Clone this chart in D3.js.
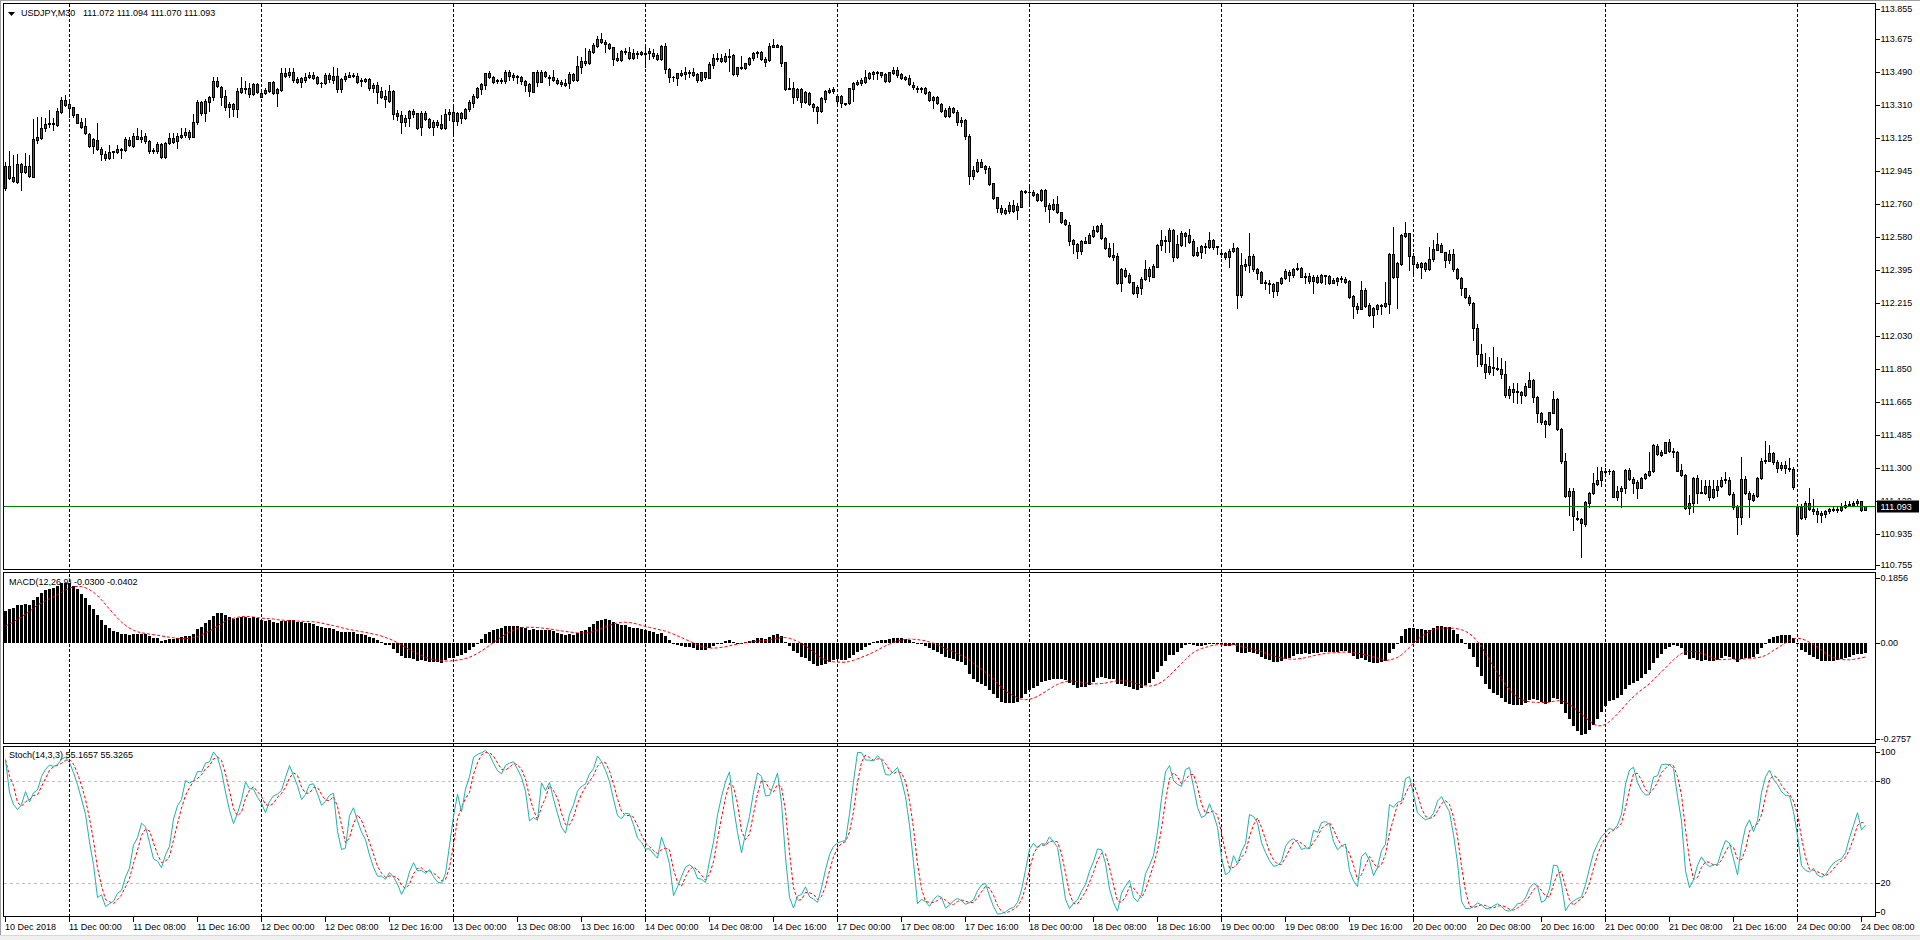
<!DOCTYPE html>
<html><head><meta charset="utf-8">
<script src="https://cdn.jsdelivr.net/npm/d3@7"></script>
<style>
html,body{margin:0;padding:0;background:#fff;overflow:hidden}
svg{display:block}
text{font-family:"Liberation Sans",Arial,sans-serif;font-size:9px;fill:#000}
</style></head><body>
<svg id="c" width="1920" height="940"></svg>
<script>
// ---------------- DATA ----------------
const SYMBOL = "USDJPY,M30";
const OPEN = [
112.848,112.973,112.909,112.885,112.982,112.935,112.971,112.912,113.115,113.124,
113.179,113.202,113.207,113.198,113.272,113.336,113.312,113.296,113.257,113.216,
113.192,113.148,113.082,113.115,113.063,113.038,113.014,113.047,113.047,113.065,
113.060,113.115,113.082,113.137,113.133,113.137,113.111,113.060,113.051,113.093,
113.023,113.097,113.124,113.111,113.133,113.143,113.157,113.133,113.213,113.327,
113.266,113.327,113.354,113.441,113.406,113.358,113.314,113.314,113.284,113.382,
113.400,113.400,113.369,113.424,113.377,113.377,113.388,113.434,113.373,113.391,
113.487,113.474,113.493,113.452,113.437,113.447,113.461,113.474,113.461,113.428,
113.428,113.474,113.447,113.469,113.397,113.450,113.465,113.474,113.470,113.441,
113.443,113.450,113.400,113.417,113.386,113.358,113.332,113.386,113.262,113.253,
113.216,113.238,113.275,113.262,113.189,113.262,113.229,113.189,113.216,113.203,
113.179,113.257,113.272,113.222,113.262,113.235,113.284,113.321,113.354,113.397,
113.419,113.483,113.465,113.443,113.447,113.443,113.493,113.474,113.469,113.461,
113.443,113.423,113.382,113.489,113.437,113.489,113.461,113.461,113.447,113.437,
113.419,113.428,113.480,113.447,113.520,113.539,113.542,113.603,113.634,113.673,
113.658,113.645,113.627,113.566,113.557,113.599,113.599,113.570,113.590,113.588,
113.598,113.607,113.598,113.585,113.563,113.634,113.505,113.461,113.456,113.474,
113.480,113.483,113.493,113.478,113.447,113.489,113.459,113.529,113.561,113.553,
113.551,113.579,113.585,113.478,113.514,113.514,113.533,113.566,113.596,113.601,
113.563,113.557,113.631,113.640,113.634,113.544,113.397,113.400,113.351,113.397,
113.327,113.377,113.314,113.299,113.277,113.343,113.380,113.388,113.332,113.358,
113.318,113.318,113.397,113.424,113.432,113.437,113.459,113.480,113.483,113.491,
113.480,113.441,113.487,113.502,113.478,113.465,113.456,113.419,113.404,113.395,
113.404,113.382,113.354,113.351,113.314,113.281,113.249,113.290,113.270,113.215,
113.225,113.135,112.917,112.945,112.995,112.971,112.958,112.875,112.798,112.737,
112.713,112.724,112.755,112.728,112.746,112.833,112.827,112.829,112.816,112.783,
112.838,112.733,112.733,112.761,112.715,112.672,112.645,112.562,112.538,112.503,
112.547,112.547,112.586,112.612,112.645,112.571,112.516,112.479,112.474,112.323,
112.396,112.369,112.328,112.267,112.299,112.345,112.402,112.359,112.415,112.534,
112.562,112.558,112.617,112.470,112.534,112.599,112.590,112.556,112.494,112.494,
112.521,112.521,112.562,112.529,112.488,112.488,112.470,112.503,112.516,112.258,
112.418,112.424,112.474,112.400,112.387,112.332,112.323,112.319,112.282,112.326,
112.350,112.387,112.369,112.402,112.405,112.359,112.363,112.337,112.359,112.332,
112.369,112.363,112.341,112.337,112.350,112.345,112.335,112.253,112.197,112.183,
112.286,112.203,112.148,112.179,112.203,112.197,112.207,112.483,112.356,112.429,
112.586,112.599,112.474,112.428,112.415,112.434,112.400,112.456,112.507,112.535,
112.493,112.452,112.485,112.400,112.351,112.295,112.249,112.213,112.074,111.931,
111.877,111.830,111.861,111.857,111.848,111.822,111.706,111.737,111.721,111.721,
111.706,111.752,111.789,111.697,111.608,111.563,111.544,111.608,111.682,111.518,
111.341,111.148,111.176,111.028,111.019,110.991,111.111,111.163,111.214,111.233,
111.281,111.286,111.288,111.144,111.176,111.191,111.292,111.242,111.227,111.194,
111.246,111.264,111.283,111.426,111.375,111.387,111.445,111.397,111.389,111.292,
111.264,111.080,111.108,111.246,111.166,111.163,111.200,111.141,111.181,111.200,
111.233,111.233,111.159,111.093,111.030,111.242,111.166,111.126,111.145,111.246,
111.341,111.343,111.384,111.334,111.301,111.319,111.301,111.295,110.936,111.089,
111.030,111.111,111.076,111.065,111.043,111.047,111.065,111.076,111.071,111.071,
111.085,111.098,111.096,111.108,111.117,111.072];
const HIGH = [
112.995,113.056,113.032,113.036,112.986,113.041,113.032,113.231,113.244,113.244,
113.235,113.281,113.235,113.290,113.354,113.364,113.336,113.299,113.259,113.235,
113.235,113.152,113.124,113.211,113.078,113.051,113.087,113.056,113.087,113.069,
113.130,113.133,113.152,113.179,113.170,113.155,113.115,113.069,113.106,113.097,
113.106,113.155,113.152,113.155,113.179,113.179,113.170,113.259,113.336,113.332,
113.340,113.358,113.461,113.465,113.413,113.391,113.327,113.318,113.400,113.461,
113.443,113.428,113.428,113.428,113.391,113.400,113.437,113.441,113.400,113.511,
113.511,113.511,113.511,113.461,113.465,113.483,113.493,113.493,113.469,113.437,
113.483,113.487,113.520,113.511,113.456,113.483,113.489,113.487,113.483,113.456,
113.456,113.456,113.432,113.437,113.410,113.391,113.419,113.391,113.281,113.277,
113.253,113.281,113.284,113.266,113.277,113.277,113.235,113.225,113.225,113.253,
113.284,113.284,113.299,113.272,113.272,113.290,113.336,113.369,113.410,113.428,
113.487,113.496,113.469,113.452,113.456,113.502,113.502,113.483,113.474,113.469,
113.447,113.432,113.493,113.502,113.502,113.496,113.474,113.502,113.456,113.447,
113.450,113.489,113.487,113.579,113.575,113.621,113.616,113.649,113.690,113.704,
113.667,113.653,113.631,113.598,113.612,113.621,113.627,113.616,113.609,113.607,
113.645,113.621,113.616,113.598,113.640,113.649,113.511,113.469,113.487,113.502,
113.516,113.502,113.511,113.483,113.493,113.493,113.548,113.590,113.594,113.590,
113.594,113.616,113.590,113.520,113.579,113.542,113.575,113.603,113.609,113.607,
113.572,113.653,113.671,113.645,113.638,113.548,113.456,113.437,113.400,113.400,
113.388,113.382,113.321,113.303,113.354,113.391,113.404,113.406,113.364,113.364,
113.321,113.404,113.437,113.447,113.456,113.502,113.493,113.498,113.498,113.493,
113.487,113.493,113.520,113.520,113.487,113.469,113.474,113.437,113.413,113.410,
113.410,113.388,113.358,113.358,113.318,113.290,113.303,113.299,113.281,113.240,
113.230,113.150,112.971,113.010,113.008,112.976,112.971,112.879,112.801,112.755,
112.737,112.774,112.783,112.765,112.838,112.838,112.860,112.838,112.824,112.842,
112.842,112.765,112.787,112.805,112.719,112.676,112.663,112.566,112.544,112.562,
112.577,112.599,112.639,112.645,112.658,112.577,112.544,112.544,112.492,112.405,
112.405,112.382,112.332,112.313,112.359,112.451,112.415,112.429,112.538,112.617,
112.584,112.626,112.621,112.590,112.612,112.604,112.621,112.566,112.525,112.534,
112.544,112.608,112.568,112.529,112.498,112.498,112.510,112.544,112.521,112.492,
112.455,112.599,112.485,112.405,112.393,112.341,112.341,112.326,112.332,112.359,
112.400,112.396,112.405,112.437,112.415,112.378,112.378,112.369,112.369,112.374,
112.370,112.369,112.350,112.359,112.363,112.359,112.341,112.258,112.212,112.337,
112.295,112.212,112.194,112.208,112.208,112.332,112.492,112.636,112.442,112.595,
112.664,112.603,112.491,112.443,112.443,112.443,112.522,112.563,112.599,112.548,
112.498,112.507,112.511,112.406,112.356,112.299,112.259,112.222,112.098,111.988,
111.936,111.914,111.968,111.914,111.909,111.896,111.756,111.774,111.771,111.725,
111.771,111.831,111.795,111.701,111.614,111.568,111.614,111.728,111.688,111.522,
111.384,111.194,111.194,111.067,111.028,111.117,111.172,111.273,111.310,111.310,
111.301,111.299,111.292,111.200,111.200,111.299,111.301,111.251,111.233,111.255,
111.273,111.389,111.435,111.435,111.402,111.448,111.461,111.411,111.397,111.325,
111.268,111.154,111.255,111.264,111.236,111.236,111.236,111.236,111.233,111.255,
111.279,111.251,111.172,111.098,111.362,111.259,111.177,111.163,111.255,111.356,
111.454,111.430,111.389,111.347,111.334,111.338,111.356,111.306,111.098,111.104,
111.117,111.194,111.130,111.080,111.062,111.071,111.080,111.089,111.085,111.108,
111.120,111.120,111.120,111.130,111.120,111.094];
const LOW = [
112.839,112.898,112.885,112.876,112.839,112.931,112.912,112.909,113.100,113.119,
113.167,113.189,113.170,113.192,113.262,113.303,113.244,113.244,113.207,113.179,
113.148,113.075,113.041,113.060,113.004,113.004,113.008,113.014,113.041,113.014,
113.056,113.082,113.078,113.119,113.106,113.097,113.045,113.041,113.045,113.017,
113.017,113.093,113.100,113.069,113.124,113.133,113.119,113.130,113.203,113.253,
113.222,113.277,113.336,113.406,113.308,113.281,113.240,113.248,113.244,113.377,
113.377,113.354,113.364,113.377,113.351,113.369,113.382,113.369,113.303,113.388,
113.465,113.465,113.437,113.432,113.410,113.437,113.456,113.450,113.423,113.410,
113.424,113.437,113.428,113.382,113.382,113.443,113.461,113.461,113.432,113.413,
113.437,113.391,113.382,113.321,113.345,113.296,113.327,113.229,113.225,113.155,
113.192,113.192,113.244,113.178,113.143,113.225,113.179,113.143,113.189,113.174,
113.174,113.225,113.155,113.198,113.207,113.229,113.277,113.296,113.345,113.369,
113.395,113.456,113.428,113.432,113.428,113.432,113.447,113.447,113.432,113.424,
113.388,113.358,113.378,113.413,113.434,113.461,113.419,113.441,113.424,113.413,
113.413,113.400,113.441,113.443,113.487,113.529,113.535,113.594,113.631,113.653,
113.599,113.616,113.529,113.553,113.553,113.590,113.563,113.563,113.566,113.583,
113.520,113.561,113.566,113.557,113.557,113.483,113.437,113.443,113.419,113.469,
113.450,113.465,113.469,113.437,113.443,113.450,113.456,113.511,113.553,113.548,
113.548,113.498,113.474,113.469,113.505,113.507,113.529,113.557,113.572,113.557,
113.524,113.553,113.627,113.627,113.524,113.391,113.395,113.318,113.336,113.296,
113.321,113.308,113.277,113.207,113.272,113.327,113.377,113.373,113.321,113.296,
113.308,113.314,113.332,113.419,113.419,113.432,113.450,113.450,113.450,113.465,
113.437,113.435,113.480,113.465,113.454,113.447,113.419,113.395,113.382,113.382,
113.369,113.332,113.290,113.314,113.272,113.244,113.244,113.262,113.200,113.190,
113.120,112.870,112.897,112.940,112.963,112.930,112.866,112.787,112.719,112.704,
112.704,112.713,112.719,112.678,112.742,112.820,112.755,112.805,112.779,112.779,
112.724,112.663,112.728,112.709,112.654,112.645,112.534,112.492,112.464,112.485,
112.544,112.544,112.580,112.608,112.566,112.510,112.466,112.451,112.319,112.282,
112.359,112.323,112.262,112.245,112.262,112.341,112.337,112.356,112.411,112.507,
112.498,112.498,112.448,112.464,112.529,112.529,112.547,112.474,112.474,112.464,
112.488,112.516,112.510,112.483,112.470,112.455,112.415,112.498,112.184,112.249,
112.396,112.387,112.393,112.345,112.323,112.289,112.267,112.249,112.258,112.319,
112.345,112.337,112.359,112.396,112.356,112.326,112.326,112.271,112.323,112.326,
112.319,112.319,112.323,112.313,112.332,112.326,112.240,112.129,112.161,112.179,
112.194,112.142,112.083,112.153,112.153,112.194,112.161,112.350,112.184,112.424,
112.581,112.397,112.364,112.406,112.351,112.393,112.397,112.448,112.504,112.493,
112.412,112.434,112.393,112.345,112.259,112.240,112.203,112.010,111.863,111.866,
111.798,111.822,111.817,111.841,111.798,111.697,111.691,111.669,111.664,111.660,
111.701,111.748,111.669,111.559,111.546,111.472,111.540,111.605,111.513,111.329,
111.144,111.043,110.957,111.012,110.813,110.982,111.085,111.159,111.209,111.200,
111.273,111.270,111.141,111.126,111.089,111.166,111.236,111.166,111.139,111.190,
111.240,111.259,111.279,111.375,111.369,111.384,111.389,111.362,111.283,111.259,
111.074,111.049,111.061,111.111,111.163,111.159,111.126,111.135,111.148,111.196,
111.218,111.154,111.078,110.936,110.993,111.159,111.034,111.117,111.141,111.240,
111.329,111.338,111.325,111.279,111.292,111.273,111.288,111.185,110.933,111.019,
111.019,111.071,111.049,111.001,111.006,111.034,111.056,111.062,111.058,111.065,
111.080,111.093,111.093,111.098,111.062,111.070];
const CLOSE = [
112.973,112.903,112.890,112.982,112.935,112.971,112.916,113.121,113.133,113.183,
113.202,113.207,113.203,113.275,113.336,113.308,113.294,113.253,113.211,113.189,
113.152,113.082,113.119,113.063,113.036,113.014,113.047,113.051,113.065,113.060,
113.119,113.087,113.137,113.122,113.122,113.111,113.051,113.051,113.093,113.023,
113.097,113.124,113.106,113.137,113.143,113.161,113.130,113.213,113.327,113.262,
113.332,113.354,113.441,113.413,113.354,113.299,113.299,113.284,113.388,113.400,
113.395,113.369,113.423,113.382,113.354,113.391,113.434,113.373,113.395,113.483,
113.469,113.493,113.447,113.437,113.456,113.465,113.474,113.459,113.428,113.432,
113.474,113.450,113.469,113.395,113.450,113.469,113.474,113.469,113.437,113.447,
113.450,113.400,113.417,113.382,113.354,113.340,113.386,113.259,113.248,113.216,
113.238,113.275,113.259,113.183,113.262,113.229,113.189,113.216,113.198,113.179,
113.257,113.272,113.222,113.262,113.235,113.284,113.327,113.358,113.400,113.423,
113.483,113.461,113.437,113.447,113.443,113.493,113.470,113.461,113.461,113.443,
113.419,113.388,113.489,113.437,113.489,113.469,113.458,113.447,113.432,113.423,
113.432,113.480,113.447,113.524,113.553,113.553,113.607,113.640,113.673,113.658,
113.644,113.625,113.563,113.557,113.607,113.609,113.570,113.594,113.598,113.603,
113.590,113.594,113.581,113.563,113.634,113.505,113.461,113.465,113.483,113.487,
113.489,113.493,113.474,113.447,113.489,113.461,113.535,113.566,113.570,113.570,
113.579,113.575,113.478,113.516,113.520,113.539,113.570,113.598,113.601,113.563,
113.548,113.634,113.640,113.631,113.542,113.397,113.400,113.351,113.397,113.327,
113.382,113.312,113.296,113.277,113.345,113.386,113.391,113.399,113.358,113.318,
113.314,113.400,113.432,113.437,113.447,113.461,113.487,113.491,113.491,113.474,
113.441,113.489,113.502,113.474,113.459,113.450,113.423,113.406,113.395,113.400,
113.377,113.336,113.336,113.321,113.277,113.248,113.290,113.270,113.215,113.225,
113.135,112.917,112.949,112.995,112.967,112.954,112.871,112.792,112.737,112.715,
112.728,112.755,112.724,112.750,112.833,112.825,112.829,112.811,112.783,112.838,
112.752,112.755,112.761,112.715,112.663,112.649,112.558,112.538,112.503,112.556,
112.556,112.590,112.617,112.639,112.571,112.516,112.474,112.470,112.323,112.400,
112.363,112.328,112.267,112.300,112.347,112.402,112.363,112.418,112.534,112.562,
112.558,112.617,112.470,112.540,112.603,112.584,112.553,112.479,112.479,112.529,
112.529,112.562,112.525,112.521,112.485,112.470,112.503,112.516,112.260,112.424,
112.429,112.474,112.400,112.382,112.326,112.323,112.319,112.282,112.328,112.350,
112.391,112.369,112.400,112.405,112.359,112.363,112.337,112.359,112.332,112.369,
112.363,112.326,112.326,112.350,112.345,112.332,112.249,112.197,112.183,112.286,
112.199,112.148,112.184,112.203,112.199,112.212,112.483,112.356,112.433,112.590,
112.599,112.476,112.430,112.412,112.434,112.400,112.456,112.511,112.540,112.498,
112.452,112.483,112.400,112.351,112.295,112.249,112.213,112.074,111.931,111.877,
111.830,111.863,111.857,111.850,111.822,111.706,111.737,111.721,111.725,111.706,
111.756,111.789,111.697,111.608,111.559,111.544,111.610,111.682,111.516,111.338,
111.150,111.176,111.038,111.019,110.997,111.113,111.166,111.218,111.236,111.283,
111.286,111.284,111.144,111.176,111.194,111.292,111.242,111.218,111.194,111.249,
111.268,111.283,111.430,111.378,111.389,111.445,111.397,111.389,111.288,111.264,
111.080,111.111,111.246,111.166,111.172,111.200,111.141,111.185,111.205,111.236,
111.240,111.159,111.085,111.030,111.242,111.166,111.130,111.154,111.249,111.341,
111.347,111.384,111.334,111.301,111.319,111.301,111.295,111.196,111.089,111.028,
111.111,111.074,111.062,111.047,111.052,111.065,111.076,111.071,111.074,111.089,
111.098,111.104,111.111,111.117,111.071,111.093];

const TIME_LABELS = ["10 Dec 2018","11 Dec 00:00","11 Dec 08:00","11 Dec 16:00","12 Dec 00:00","12 Dec 08:00","12 Dec 16:00",
"13 Dec 00:00","13 Dec 08:00","13 Dec 16:00","14 Dec 00:00","14 Dec 08:00","14 Dec 16:00","17 Dec 00:00","17 Dec 08:00",
"17 Dec 16:00","18 Dec 00:00","18 Dec 08:00","18 Dec 16:00","19 Dec 00:00","19 Dec 08:00","19 Dec 16:00","20 Dec 00:00",
"20 Dec 08:00","20 Dec 16:00","21 Dec 00:00","21 Dec 08:00","21 Dec 16:00","24 Dec 00:00","24 Dec 08:00"];
const BARS_PER_LABEL = 16;   // 8 hours of M30 bars
const PRICE_TICKS = [113.855,113.675,113.490,113.310,113.125,112.945,112.760,112.580,112.395,112.215,112.030,111.850,111.665,111.485,111.300,111.120,110.935,110.755];
const MACD_TICKS = [0.1856, 0, -0.2757];
const MACD_TICK_LABELS = ["0.1856","0.00","-0.2757"];
const STOCH_TICKS = [100, 80, 20, 0];
const STOCH_LEVELS = [80, 20];
const MACD_PARAMS = [12, 26, 9];
const STOCH_PARAMS = [14, 3, 3];
const MACD_LAST = ["-0.0300","-0.0402"];
const STOCH_LAST = ["55.1657","55.3265"];
// indicator state carried in from the bars before the visible window (estimated from the panels)
const EMA_FAST_START = 112.750;   // EMA(12) at the first visible bar
const EMA_SLOW_START = 112.664;   // EMA(26) at the first visible bar
const MACD_PRIOR_MEAN = 0.040;    // mean MACD of the 8 bars before the window
const PRIOR_LOW = 112.700;        // lowest low of the 13 bars before the window
const PRIOR_HIGH = 112.990;       // highest high of the 13 bars before the window

// ---------------- LAYOUT ----------------
const N = CLOSE.length;
const LEFT = 3.5, RIGHT = 1875.5;
const PANELS = {main:[3.5,569.5], macd:[572.5,743.5], stoch:[746.5,916.5]};
const BULL = "#0a8a0a", BEAR = "#dc1414";

const svg = d3.select("#c");
svg.append("rect").attr("width",1920).attr("height",940).attr("fill","#fff");
svg.append("rect").attr("x",0).attr("y",935).attr("width",1920).attr("height",5).attr("fill","#f0f0f0");
svg.append("line").attr("x1",0).attr("x2",1920).attr("y1",935.5).attr("y2",935.5).attr("stroke","#d8d8d8");
svg.append("line").attr("x1",0.5).attr("x2",0.5).attr("y1",0).attr("y2",935).attr("stroke","#a0a0a0");
svg.append("line").attr("x1",0).attr("x2",1920).attr("y1",0.5).attr("y2",0.5).attr("stroke","#a0a0a0");

const x = d3.scaleLinear().domain([0, N-1]).range([5, 5 + 4*(N-1)]);
const yP = d3.scaleLinear().domain([110.755, 113.855]).range([567, 6]);
const yM = d3.scaleLinear().domain([MACD_TICKS[2], MACD_TICKS[0]]).range([743, 575]);
const yS = d3.scaleLinear().domain([0, 100]).range([917, 747]);
const xi = i => Math.round(x(i));

// clip paths
const defs = svg.append("defs");
Object.entries(PANELS).forEach(([k,[t,b]])=>{
  defs.append("clipPath").attr("id","clip-"+k).append("rect")
    .attr("x",LEFT+0.5).attr("y",t+0.5).attr("width",RIGHT-LEFT-1).attr("height",b-t-1);
});

// period separators (day starts)
const sepIdx = TIME_LABELS.map((t,k)=>t.endsWith("00:00") ? k*BARS_PER_LABEL : -1).filter(v=>v>=0);
svg.append("g").selectAll("line").data(sepIdx).join("line")
  .attr("x1",i=>xi(i)+0.5).attr("x2",i=>xi(i)+0.5).attr("y1",PANELS.main[0]).attr("y2",PANELS.stoch[1])
  .attr("stroke","#000").attr("stroke-dasharray","3,2").attr("shape-rendering","crispEdges");

// ---------------- MAIN: candles ----------------
const gMain = svg.append("g").attr("clip-path","url(#clip-main)").attr("shape-rendering","crispEdges");
const idx = d3.range(N);
gMain.selectAll("rect.wick").data(idx).join("rect").attr("class","wick")
  .attr("x",i=>xi(i)).attr("width",1)
  .attr("y",i=>Math.round(yP(HIGH[i])))
  .attr("height",i=>Math.max(1, Math.round(yP(LOW[i])) - Math.round(yP(HIGH[i])) + 1))
  .attr("fill","#000");
const bodyTop = i => Math.round(yP(Math.max(OPEN[i],CLOSE[i])));
const bodyH = i => Math.max(1, Math.round(yP(Math.min(OPEN[i],CLOSE[i]))) - bodyTop(i) + 1);
gMain.selectAll("rect.body").data(idx).join("rect").attr("class","body")
  .attr("x",i=>xi(i)-1).attr("width",3).attr("y",bodyTop).attr("height",bodyH).attr("fill","#000");
gMain.selectAll("rect.fill").data(idx.filter(i=>bodyH(i)>2)).join("rect").attr("class","fill")
  .attr("x",i=>xi(i)).attr("width",1).attr("y",i=>bodyTop(i)+1).attr("height",i=>bodyH(i)-2)
  .attr("fill",i=>CLOSE[i]>=OPEN[i]?BULL:BEAR);

// bid line
const lastY = Math.round(yP(CLOSE[N-1])) + 0.5;
svg.append("line").attr("x1",LEFT).attr("x2",RIGHT).attr("y1",lastY).attr("y2",lastY)
  .attr("stroke","#008000").attr("shape-rendering","crispEdges");

// ---------------- MACD ----------------
function ema(arr, n, start){ const a = 2/(n+1); let e = start; return arr.map((v,i)=> (e = i===0 ? start : e + a*(v-e))); }
const eFast = ema(CLOSE, MACD_PARAMS[0], EMA_FAST_START), eSlow = ema(CLOSE, MACD_PARAMS[1], EMA_SLOW_START);
const macd = CLOSE.map((_,i)=>eFast[i]-eSlow[i]);
const macdSig = macd.map((_,i)=>{
  const p = MACD_PARAMS[2], from = i-p+1;
  const vals = macd.slice(Math.max(0,from), i+1);
  const missing = Math.max(0, -from);
  return (d3.sum(vals) + missing*MACD_PRIOR_MEAN) / p;
});
const gM = svg.append("g").attr("clip-path","url(#clip-macd)");
const y0 = Math.round(yM(0));
gM.selectAll("rect").data(idx).join("rect")
  .attr("shape-rendering","crispEdges")
  .attr("x",i=>xi(i)-1).attr("width",3)
  .attr("y",i=>Math.min(y0, Math.round(yM(macd[i]))))
  .attr("height",i=>Math.max(1, Math.abs(Math.round(yM(macd[i])) - y0)))
  .attr("fill","#000");
gM.append("path").datum(idx)
  .attr("d", d3.line().x(i=>xi(i)+0.5).y(i=>yM(macdSig[i])))
  .attr("fill","none").attr("stroke","#ff0000").attr("stroke-width",1).attr("stroke-dasharray","3,2");

// ---------------- STOCHASTIC ----------------
const [kP, dP, slow] = STOCH_PARAMS;
const stK = idx.map(i=>{
  let num = 0, den = 0;
  for (let j = Math.max(0, i-slow+1); j <= i; j++){
    const from = j-kP+1;
    let lo = d3.min(LOW.slice(Math.max(0,from), j+1));
    let hi = d3.max(HIGH.slice(Math.max(0,from), j+1));
    if (from < 0){ lo = Math.min(lo, PRIOR_LOW); hi = Math.max(hi, PRIOR_HIGH); }
    num += CLOSE[j]-lo; den += hi-lo;
  }
  return den > 0 ? 100*num/den : 50;
});
const stD = idx.map(i=>d3.mean(stK.slice(Math.max(0,i-dP+1), i+1)));
const gS = svg.append("g").attr("clip-path","url(#clip-stoch)");
gS.selectAll("line.lvl").data(STOCH_LEVELS).join("line").attr("class","lvl")
  .attr("x1",LEFT).attr("x2",RIGHT).attr("y1",v=>Math.round(yS(v))+0.5).attr("y2",v=>Math.round(yS(v))+0.5)
  .attr("stroke","#c0c0c0").attr("stroke-dasharray","3,3").attr("shape-rendering","crispEdges");
gS.append("path").datum(idx)
  .attr("d", d3.line().x(i=>xi(i)+0.5).y(i=>yS(stD[i])))
  .attr("fill","none").attr("stroke","#ff0000").attr("stroke-dasharray","3,2");
gS.append("path").datum(idx)
  .attr("d", d3.line().x(i=>xi(i)+0.5).y(i=>yS(stK[i])))
  .attr("fill","none").attr("stroke","#20b2aa").attr("stroke-width",1);

// ---------------- FRAMES ----------------
Object.values(PANELS).forEach(([t,b])=>{
  svg.append("rect").attr("x",LEFT).attr("y",t).attr("width",RIGHT-LEFT).attr("height",b-t)
    .attr("fill","none").attr("stroke","#000").attr("shape-rendering","crispEdges");
});

// ---------------- AXES ----------------
const axisG = svg.append("g");
const lastPrice = CLOSE[N-1];
function rightLabels(ticks, labels, scale, [t,b], hideNear){
  ticks.forEach((v,k)=>{
    const yy = Math.min(b-5, Math.max(t+5, scale(v)));
    axisG.append("line").attr("x1",RIGHT).attr("x2",RIGHT+4).attr("y1",Math.round(yy)+0.5).attr("y2",Math.round(yy)+0.5)
      .attr("stroke","#000").attr("shape-rendering","crispEdges");
    const txt = axisG.append("text").attr("x",RIGHT+5).attr("y",yy).attr("dy","0.34em").text(labels[k]);
    if (hideNear && Math.abs(scale(v)-scale(lastPrice)) < 10) {
      // label partly covered by the current-price box: only its upper part shows
      txt.attr("clip-path","url(#clip-under-box)");
    }
  });
}
defs.append("clipPath").attr("id","clip-under-box").append("rect")
  .attr("x",RIGHT).attr("y",0).attr("width",60).attr("height",Math.round(yP(lastPrice))-6);
rightLabels(PRICE_TICKS, PRICE_TICKS.map(v=>v.toFixed(3)), yP, PANELS.main, true);
rightLabels(MACD_TICKS, MACD_TICK_LABELS, yM, PANELS.macd, false);
rightLabels(STOCH_TICKS, STOCH_TICKS.map(String), yS, PANELS.stoch, false);

// current price box
axisG.append("rect").attr("x",RIGHT+1.5).attr("y",lastY-6).attr("width",42).attr("height",12).attr("fill","#000");
axisG.append("text").attr("x",RIGHT+5).attr("y",lastY).attr("dy","0.34em").style("fill","#fff").text(lastPrice.toFixed(3));

// time axis
TIME_LABELS.forEach((t,k)=>{
  const i = k*BARS_PER_LABEL; const xx = xi(i);
  axisG.append("line").attr("x1",xx+0.5).attr("x2",xx+0.5).attr("y1",PANELS.stoch[1]).attr("y2",PANELS.stoch[1]+5)
    .attr("stroke","#000").attr("shape-rendering","crispEdges");
  axisG.append("text").attr("x",xx).attr("y",930).text(t);
});

// ---------------- LABELS ----------------
svg.append("path").attr("d",d3.line()([[8,12],[15,12],[11.5,16]])+"Z").attr("fill","#000");
svg.append("text").attr("x",21).attr("y",16).text(SYMBOL);
svg.append("text").attr("x",83).attr("y",16)
  .text([OPEN[N-1],HIGH[N-1],LOW[N-1],CLOSE[N-1]].map(v=>v.toFixed(3)).join(" "));
svg.append("text").attr("x",9).attr("y",585).text(`MACD(${MACD_PARAMS.join(",")}) ${MACD_LAST.join(" ")}`);
svg.append("text").attr("x",9).attr("y",758).text(`Stoch(${STOCH_PARAMS.join(",")}) ${STOCH_LAST.join(" ")}`);
</script>
</body></html>
